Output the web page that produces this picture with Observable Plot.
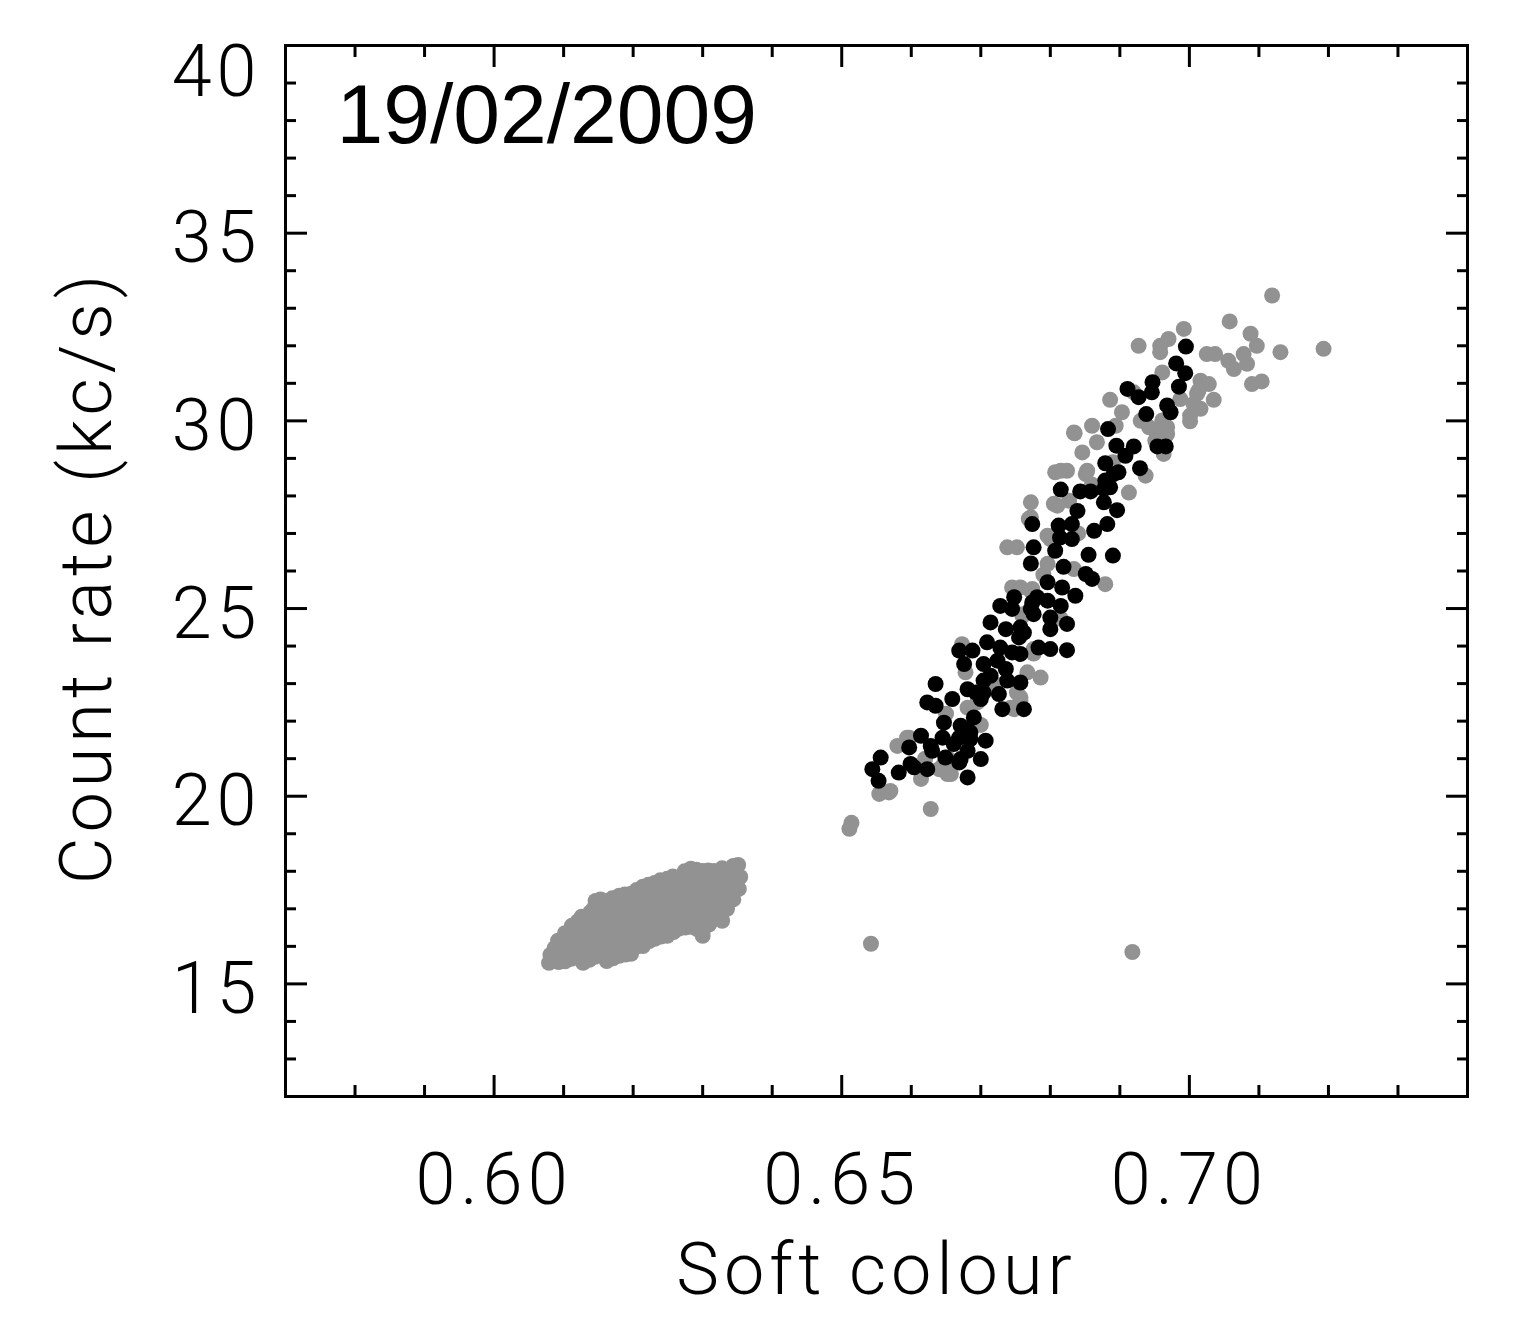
<!DOCTYPE html>
<html><head><meta charset="utf-8">
<script src="https://cdn.jsdelivr.net/npm/d3@7"></script>
<script src="https://cdn.jsdelivr.net/npm/@observablehq/plot@0.6"></script>
<style>
body{margin:0;background:#fff;}
svg text{letter-spacing:5px;}
</style>
</head><body><div id="chart"></div>
<script>
const dateLabel = "19/02/2009";
const xLabel = "Soft colour";
const yLabel = "Count rate (kc/s)";
const xDomain = [0.57, 0.74];
const yDomain = [12, 40];
const xMajorTicks = [0.60, 0.65, 0.70];
const xMinorTicks = [0.58,0.59,0.61,0.62,0.63,0.64,0.66,0.67,0.68,0.69,0.71,0.72,0.73];
const yMajorTicks = [15, 20, 25, 30, 35, 40];
const yMinorTicks = [13,14,16,17,18,19,21,22,23,24,26,27,28,29,31,32,33,34,36,37,38,39];

// grey points: upper branch and outliers [soft colour, count rate]
const greyBranch = [
[0.7119,33.34],[0.7058,32.65],[0.6992,32.45],[0.7088,32.32],[0.6970,32.18],[0.6958,32.00],[0.6927,32.00],[0.7097,32.00],[0.7193,31.92],[0.7131,31.83],
[0.7025,31.78],[0.7037,31.78],[0.7078,31.78],[0.7056,31.60],[0.7083,31.52],[0.7064,31.38],[0.6961,31.29],[0.7016,31.07],[0.7028,30.98],[0.7090,30.98],
[0.7104,31.05],[0.7011,30.72],[0.7035,30.56],[0.6987,30.58],[0.6920,30.76],[0.6886,30.56],[0.7001,30.14],[0.6903,30.23],[0.6961,30.01],[0.6942,29.83],
[0.6860,29.87],[0.6834,29.69],[0.6894,29.87],[0.6968,29.65],[0.6867,29.43],[0.6846,29.16],[0.6963,29.12],[0.6937,28.54],[0.6807,28.63],[0.6824,28.67],
[0.6853,28.67],[0.6913,28.09],[0.6772,27.83],[0.6810,27.74],[0.6827,27.87],[0.6769,27.39],[0.6738,26.63],[0.6752,26.63],[0.6800,26.85],[0.6796,26.19],
[0.6879,25.65],[0.6745,25.56],[0.6757,25.56],[0.6772,25.47],[0.6834,26.05],[0.6776,23.92],[0.6673,24.05],[0.6678,23.30],[0.6786,23.16],[0.6767,23.30],
[0.6757,22.63],[0.6748,22.32],[0.6695,22.50],[0.6597,21.56],[0.6580,21.34],[0.6652,21.03],[0.6657,20.59],[0.6647,20.86],[0.6640,20.72],[0.6614,20.46],
[0.6568,20.10],[0.6554,20.06],[0.6514,19.29],[0.6511,19.13],[0.6542,16.07],[0.6628,19.66],[0.6918,15.85],
[0.6720,23.00],[0.6650,22.20],[0.6760,24.80],[0.6840,27.00],[0.6890,28.90],[0.6930,30.00],[0.6700,21.90],[0.6790,25.90],[0.6620,21.00],[0.6860,28.30],
[0.6761,24.85],[0.6815,24.73],[0.6776,23.80],[0.6752,22.76],[0.6757,22.54],[0.6743,22.36],[0.6681,22.36],[0.6594,21.56],[0.6652,20.59],[0.6570,20.14],
[0.6835,29.67],[0.6951,29.74],[0.6968,29.83],[0.7001,29.99],[0.6815,28.67],[0.6851,28.58],[0.6805,27.79],[0.6772,27.43],[0.6796,26.94],[0.6774,25.52],
[0.6958,31.83],[0.7013,30.80],[0.7006,30.45],[0.7016,30.32],[0.6966,29.61],[0.6951,29.47]
];

// grey points: dense low-rate cluster
const greyCluster = [
[0.6079,15.56],[0.6081,15.77],
[0.6093,15.58],[0.6095,15.88],[0.6092,16.15],
[0.6111,15.67],[0.6113,15.99],[0.6109,16.31],[0.6112,16.55],
[0.6128,15.56],[0.6130,15.88],[0.6127,16.20],[0.6129,16.52],[0.6126,16.79],
[0.6145,15.72],[0.6147,16.04],[0.6144,16.36],[0.6146,16.68],[0.6143,17.00],[0.6146,17.21],
[0.6162,15.61],[0.6164,15.93],[0.6161,16.25],[0.6163,16.57],[0.6160,16.89],[0.6162,17.21],
[0.6180,15.75],[0.6178,16.07],[0.6181,16.39],[0.6179,16.71],[0.6182,17.03],[0.6180,17.35],
[0.6197,15.80],[0.6199,16.12],[0.6196,16.44],[0.6198,16.76],[0.6195,17.08],[0.6197,17.40],
[0.6214,16.01],[0.6216,16.33],[0.6213,16.65],[0.6215,16.97],[0.6212,17.29],[0.6214,17.59],
[0.6231,16.20],[0.6233,16.52],[0.6230,16.84],[0.6232,17.16],[0.6229,17.48],[0.6231,17.69],
[0.6249,16.28],[0.6251,16.60],[0.6248,16.92],[0.6250,17.24],[0.6247,17.56],[0.6249,17.80],
[0.6266,16.47],[0.6268,16.79],[0.6265,17.11],[0.6267,17.43],[0.6264,17.75],
[0.6283,16.52],[0.6285,16.84],[0.6282,17.16],[0.6284,17.48],[0.6281,17.80],[0.6283,18.07],
[0.6300,16.28],[0.6300,16.41],[0.6302,16.73],[0.6299,17.05],[0.6301,17.37],[0.6298,17.69],[0.6300,18.01],
[0.6318,16.73],[0.6320,17.05],[0.6317,17.37],[0.6319,17.69],[0.6316,18.01],[0.6328,16.68],
[0.6335,17.00],[0.6337,17.32],[0.6334,17.64],[0.6336,17.96],
[0.6352,17.53],[0.6354,17.85],[0.6351,18.17],
[0.6086,15.70],[0.6087,15.95],
[0.6102,15.60],[0.6103,15.82],[0.6101,16.08],[0.6102,16.35],
[0.6120,15.72],[0.6121,16.04],[0.6119,16.36],[0.6120,16.66],
[0.6137,15.64],[0.6138,15.96],[0.6136,16.28],[0.6137,16.60],[0.6138,16.90],
[0.6154,15.78],[0.6155,16.10],[0.6153,16.42],[0.6154,16.74],[0.6155,17.05],[0.6153,17.25],
[0.6171,15.68],[0.6172,16.00],[0.6170,16.32],[0.6171,16.64],[0.6172,16.96],[0.6170,17.28],
[0.6189,15.78],[0.6190,16.10],[0.6188,16.42],[0.6189,16.74],[0.6190,17.06],[0.6188,17.38],
[0.6206,16.00],[0.6207,16.24],[0.6205,16.56],[0.6206,16.88],[0.6207,17.20],[0.6205,17.50],
[0.6223,16.14],[0.6224,16.42],[0.6222,16.74],[0.6223,17.06],[0.6224,17.38],[0.6222,17.64],
[0.6240,16.26],[0.6241,16.56],[0.6239,16.88],[0.6240,17.20],[0.6241,17.52],[0.6239,17.76],
[0.6258,16.38],[0.6259,16.70],[0.6257,17.02],[0.6258,17.34],[0.6259,17.66],[0.6257,17.86],
[0.6275,16.50],[0.6276,16.82],[0.6274,17.14],[0.6275,17.46],[0.6276,17.78],[0.6274,18.00],
[0.6292,16.46],[0.6293,16.78],[0.6291,17.10],[0.6292,17.42],[0.6293,17.74],[0.6291,18.04],
[0.6309,16.58],[0.6310,16.90],[0.6308,17.22],[0.6309,17.54],[0.6310,17.86],[0.6308,18.02],
[0.6327,16.86],[0.6328,17.18],[0.6326,17.50],[0.6327,17.82],[0.6328,18.08],
[0.6344,17.25],[0.6345,17.57],[0.6343,17.90],[0.6344,18.14]
];

// black points
const blackPoints = [
[0.6995,31.98],[0.6981,31.53],[0.6994,31.27],[0.6947,31.03],[0.6911,30.85],[0.6927,30.63],[0.6985,30.91],[0.6968,30.41],[0.6973,30.23],[0.6938,30.18],
[0.6883,29.78],[0.6895,29.34],[0.6920,29.32],[0.6954,29.32],[0.6966,29.32],[0.6908,29.07],[0.6879,28.87],[0.6929,28.74],[0.6891,28.58],[0.6879,28.41],
[0.6815,28.17],[0.6843,28.12],[0.6858,28.12],[0.6886,28.23],[0.6877,27.83],[0.6896,27.62],[0.6839,27.60],[0.6774,27.25],[0.6812,27.21],[0.6882,27.25],
[0.6863,27.07],[0.6831,26.85],[0.6814,26.89],[0.6776,26.63],[0.6807,26.54],[0.6855,26.43],[0.6890,26.41],[0.6772,26.20],[0.6819,26.11],[0.6851,25.92],
[0.6860,25.79],[0.6796,25.70],[0.6817,25.56],[0.6836,25.34],[0.6748,25.30],[0.6728,25.07],[0.6781,25.30],[0.6772,24.99],[0.6815,25.07],[0.6745,24.99],
[0.6714,24.63],[0.6800,24.76],[0.6757,24.50],[0.6736,24.45],[0.6824,24.59],[0.6800,24.45],[0.6755,24.23],[0.6709,24.10],[0.6728,23.96],[0.6783,23.96],
[0.6800,23.92],[0.6824,23.89],[0.6669,23.88],[0.6688,23.88],[0.6745,23.83],[0.6724,23.61],[0.6704,23.52],[0.6676,23.52],[0.6736,23.39],[0.6714,23.21],
[0.6635,22.99],[0.6757,23.03],[0.6681,22.85],[0.6704,22.76],[0.6726,22.72],[0.6623,22.50],[0.6659,22.59],[0.6700,22.59],[0.6635,22.41],[0.6731,22.32],
[0.6762,22.32],[0.6647,21.96],[0.6690,22.10],[0.6678,21.79],[0.6669,21.56],[0.6685,21.52],[0.6707,21.48],[0.6614,21.61],[0.6597,21.30],[0.6628,21.34],
[0.6671,20.99],[0.6700,20.99],[0.6556,21.03],[0.6544,20.72],[0.6582,20.63],[0.6604,20.77],[0.6623,20.72],[0.6669,20.90],[0.6553,20.41],[0.6681,20.50],
[0.6762,24.36],[0.6757,23.79],[0.6738,23.08],[0.6704,23.08],[0.6693,22.76],[0.6671,21.88],[0.6645,21.56],[0.6661,21.39],[0.6630,21.21],[0.6681,21.21],
[0.6649,21.03],[0.6599,20.86],[0.6877,28.18],[0.6831,27.25],[0.6774,25.16],[0.6796,25.21],[0.6776,24.85],[0.6685,21.70],[0.6946,30.76],[0.6898,28.63]
];

const thinFont = {fontFamily: "Roboto, 'DejaVu Sans', sans-serif", fontWeight: 300, fontSize: 72};
const tickStyle = {stroke: "black", strokeWidth: 3, fill: "none", label: null};
const dotRadius = 8;

const chart = Plot.plot({
  width: 1529,
  height: 1331,
  marginLeft: 285,
  marginRight: 62,
  marginTop: 45,
  marginBottom: 235,
  style: {background: "white", color: "black"},
  x: {domain: xDomain},
  y: {domain: yDomain},
  marks: [
    Plot.dot(greyCluster, {x: d => d[0], y: d => d[1], r: dotRadius, fill: "#929292"}),
    Plot.dot(greyBranch, {x: d => d[0], y: d => d[1], r: dotRadius, fill: "#929292"}),
    Plot.dot(blackPoints, {x: d => d[0], y: d => d[1], r: dotRadius, fill: "black"}),
    Plot.frame({stroke: "black", strokeWidth: 3}),
    // inward ticks on all four sides
    Plot.axisX({ticks: xMajorTicks, anchor: "bottom", tickSize: -21, ...tickStyle}),
    Plot.axisX({ticks: xMinorTicks, anchor: "bottom", tickSize: -11, ...tickStyle}),
    Plot.axisX({ticks: xMajorTicks, anchor: "top", tickSize: -21, ...tickStyle}),
    Plot.axisX({ticks: xMinorTicks, anchor: "top", tickSize: -11, ...tickStyle}),
    Plot.axisY({ticks: yMajorTicks, anchor: "left", tickSize: -22, ...tickStyle}),
    Plot.axisY({ticks: yMinorTicks, anchor: "left", tickSize: -11, ...tickStyle}),
    Plot.axisY({ticks: yMajorTicks, anchor: "right", tickSize: -22, ...tickStyle}),
    Plot.axisY({ticks: yMinorTicks, anchor: "right", tickSize: -11, ...tickStyle}),
    // tick labels
    Plot.axisX({ticks: xMajorTicks, anchor: "bottom", tickSize: 0, tickPadding: 56, tickFormat: d3.format(".2f"), label: null, ...thinFont}),
    Plot.axisY({ticks: yMajorTicks.slice(0, 5), anchor: "left", tickSize: 0, tickPadding: 24, dy: 6, label: null, ...thinFont}),
    Plot.axisY({ticks: yMajorTicks.slice(5), anchor: "left", tickSize: 0, tickPadding: 24, dy: 27, label: null, ...thinFont}),
    // axis titles
    Plot.text([xLabel], {text: d => d, frameAnchor: "bottom", lineAnchor: "bottom", dy: 197, ...thinFont}),
    Plot.text([yLabel], {text: d => d, frameAnchor: "left", rotate: -90, textAnchor: "middle", lineAnchor: "bottom", dx: -175, dy: 6, ...thinFont}),
    // date annotation
    Plot.text([dateLabel], {text: d => d, frameAnchor: "top-left", textAnchor: "start", lineAnchor: "bottom", dx: 51, dy: 97, fontSize: 84, fontFamily: "'Liberation Sans', Arial, sans-serif"})
  ]
});
d3.select(chart).selectAll("text").filter(function() { return this.textContent === dateLabel; }).style("letter-spacing", "0px");
document.getElementById("chart").appendChild(chart);
</script>
</body></html>
